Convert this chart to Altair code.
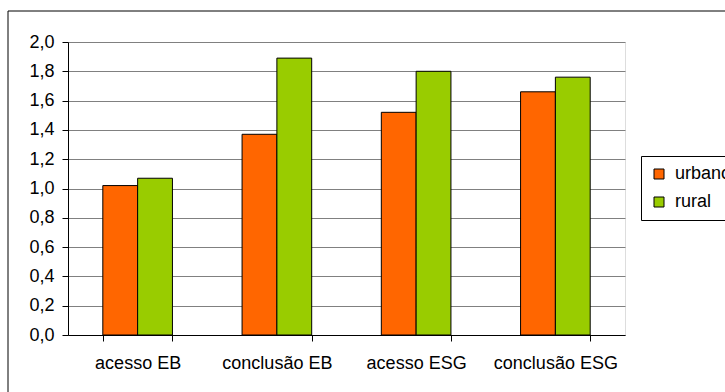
import altair as alt
import pandas as pd

# Indicator categories and the two series
categorias = ["acesso EB", "conclusão EB", "acesso ESG", "conclusão ESG"]
series = ["urbano", "rural"]
urbano = [1.02, 1.37, 1.52, 1.66]
rural = [1.07, 1.89, 1.80, 1.76]
cores = ["#FF6600", "#99CC00"]
y_ticks = [0.0, 0.2, 0.4, 0.6, 0.8, 1.0, 1.2, 1.4, 1.6, 1.8, 2.0]

rows = []
for c, u, r in zip(categorias, urbano, rural):
    rows.append({"categoria": c, "serie": "urbano", "valor": u})
    rows.append({"categoria": c, "serie": "rural", "valor": r})
df = pd.DataFrame(rows)

FONT = "Liberation Sans"

bars = alt.Chart(df).mark_bar(stroke="black", strokeWidth=1).encode(
    x=alt.X(
        "categoria:N",
        sort=categorias,
        title=None,
        scale=alt.Scale(paddingInner=0.5, paddingOuter=0.25),
        axis=alt.Axis(
            labelAngle=0,
            tickBand="extent",
            tickSize=6,
            tickColor="black",
            domainColor="black",
            labelPadding=13,
            labelFont=FONT,
            labelFontSize=18,
            labelColor="black",
            grid=False,
        ),
    ),
    xOffset=alt.XOffset("serie:N", sort=series),
    y=alt.Y(
        "valor:Q",
        title=None,
        scale=alt.Scale(domain=[0, 2], nice=False),
        axis=alt.Axis(
            values=y_ticks,
            labelExpr="replace(format(datum.value, '.1f'), '.', ',')",
            tickSize=6,
            tickColor="black",
            domainColor="black",
            labelPadding=8,
            labelFont=FONT,
            labelFontSize=18,
            labelColor="black",
            grid=True,
            gridColor="#808080",
            gridWidth=1,
        ),
    ),
    color=alt.Color(
        "serie:N",
        sort=series,
        scale=alt.Scale(domain=series, range=cores),
        legend=alt.Legend(
            title=None,
            orient="none",
            legendX=573,
            legendY=114,
            direction="vertical",
            strokeColor="black",
            fillColor="white",
            padding=9,
            symbolType="square",
            symbolSize=100,
            symbolStrokeColor="black",
            symbolStrokeWidth=1,
            labelFont=FONT,
            labelFontSize=18,
            labelColor="black",
            labelOffset=7,
            rowPadding=10,
        ),
    ),
)

# Outer chart frame
frame = alt.Chart(pd.DataFrame({"k": [0]})).mark_rect(
    fill=None, stroke="black", strokeWidth=1
).encode(
    x=alt.value(-60), x2=alt.value(720),
    y=alt.value(-31), y2=alt.value(400),
)

chart = alt.layer(frame, bars).properties(
    width=557,
    height=293,
    autosize=alt.AutoSizeParams(type="none"),
    padding={"left": 68, "top": 42, "right": 100, "bottom": 57},
).configure_view(
    stroke="#b0b0b0", strokeWidth=1
).configure(background="white")

chart.save("out.html", embed_options={"renderer": "svg", "actions": False})
